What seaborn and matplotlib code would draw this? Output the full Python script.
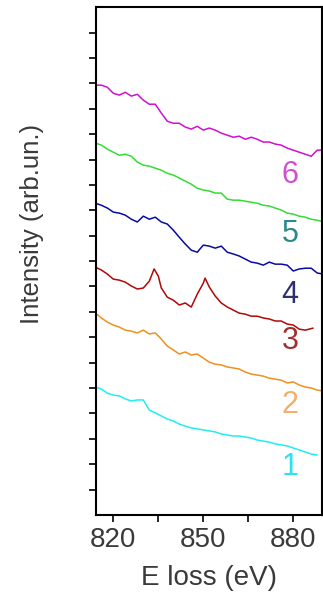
import matplotlib
matplotlib.use("Agg")
import matplotlib.pyplot as plt
import numpy as np
import seaborn as sns

# energy grid (eV) shared by most spectra
energy = np.arange(814, 891, 2)

spec1 = [5.04, 4.96, 4.80, 4.72, 4.69, 4.57, 4.49, 4.53, 4.53, 4.13, 4.02, 3.90, 3.78,
         3.70, 3.58, 3.50, 3.43, 3.39, 3.35, 3.31, 3.27, 3.19, 3.15, 3.11, 3.11, 3.07,
         3.03, 2.95, 2.91, 2.87, 2.80, 2.76, 2.72, 2.64, 2.56, 2.48, 2.40, 2.36, np.nan]
spec2 = [7.95, 7.76, 7.60, 7.48, 7.40, 7.28, 7.24, 7.17, 7.28, 7.13, 7.17, 6.93, 6.65,
         6.50, 6.34, 6.42, 6.30, 6.34, 6.18, 6.02, 5.94, 5.91, 5.83, 5.79, 5.75, 5.63,
         5.55, 5.51, 5.47, 5.39, 5.35, 5.31, 5.20, 5.24, 5.12, 5.04, 5.00, 4.92, 4.88]
spec4 = [12.28, 12.20, 12.09, 11.93, 11.89, 11.81, 11.65, 11.54, 11.77, 11.65, 11.73,
         11.54, 11.46, 11.22, 10.94, 10.67, 10.43, 10.35, 10.63, 10.59, 10.51, 10.59,
         10.35, 10.28, 10.20, 10.08, 9.96, 9.92, 9.84, 9.96, 9.88, 9.88, 9.84, 9.61,
         9.69, 9.72, 9.72, 9.53, 9.49]
spec5 = [14.65, 14.57, 14.41, 14.29, 14.17, 14.21, 14.13, 13.90, 13.78, 13.74, 13.66,
         13.58, 13.46, 13.39, 13.27, 13.15, 13.03, 12.87, 12.80, 12.76, 12.68, 12.68,
         12.44, 12.40, 12.40, 12.36, 12.32, 12.28, 12.20, 12.17, 12.09, 12.01, 11.89,
         11.85, 11.77, 11.73, 11.65, 11.61, 11.54]
spec6 = [16.93, 16.93, 16.85, 16.61, 16.54, 16.65, 16.50, 16.57, 16.34, 16.18, 16.18,
         15.83, 15.51, 15.43, 15.43, 15.28, 15.20, 15.31, 15.16, 15.24, 15.16, 15.04,
         14.96, 14.88, 14.92, 14.80, 14.88, 14.80, 14.69, 14.69, 14.61, 14.57, 14.45,
         14.37, 14.29, 14.21, 14.13, 14.37, 14.37]

# spectrum 3 has its own energies (two sharp peaks)
energy3 = [814, 816, 818, 820, 822, 824, 826, 828, 830, 832, 833.6, 835, 836, 838, 840,
           842, 844, 846, 848, 850, 850.6, 852, 854, 856, 858, 860, 862, 864, 866, 868,
           870, 872, 874, 876, 878, 880, 882, 884, 886.6]
spec3 = [9.76, 9.65, 9.49, 9.29, 9.25, 9.17, 9.02, 8.90, 8.94, 9.21, 9.69, 9.41, 8.94,
         8.58, 8.46, 8.27, 8.35, 8.19, 8.70, 9.13, 9.33, 8.98, 8.62, 8.35, 8.19, 8.07,
         7.95, 7.91, 7.83, 7.83, 7.76, 7.72, 7.64, 7.64, 7.52, 7.48, 7.32, 7.28, 7.36]

labels = ["1", "2", "3", "4", "5", "6"]
label_y = [1.90, 4.35, 6.85, 8.65, 11.05, 13.40]
line_colors = ["#20eef0", "#f0901e", "#b00808", "#0a0aa0", "#33dd33", "#d010d0"]
label_colors = ["#30e0f0", "#f0b070", "#a03030", "#303070", "#2a8a8a", "#d050d0"]

sns.set_theme(style="ticks")
plt.rcParams["font.family"] = ["Liberation Sans", "DejaVu Sans"]

fig = plt.figure(figsize=(3.23, 6.03), dpi=100)
ax = fig.add_axes([0.297, 0.146, 0.700, 0.842])

series = [(energy, spec1), (energy, spec2), (energy3, spec3),
          (energy, spec4), (energy, spec5), (energy, spec6)]
for (xs, ys), c in zip(series, line_colors):
    sns.lineplot(x=xs, y=ys, ax=ax, color=c, linewidth=1.1, estimator=None, sort=False)

for lab, ly, c in zip(labels, label_y, label_colors):
    ax.text(879, ly, lab, color=c, fontsize=22, ha="center", va="center")

ax.set_xlim(814.2, 889.6)
ax.set_ylim(0, 20)
ax.set_xticks([820, 850, 880])
ax.set_xticks([835, 865], minor=True)
ax.set_yticks(np.arange(1, 20))
ax.set_yticklabels([])
ax.tick_params(axis="both", which="both", direction="out", length=5, width=1.2,
               color="black", labelsize=20, labelcolor="#3a3a3a")
ax.tick_params(axis="x", pad=4)
for s in ax.spines.values():
    s.set_color("black")
    s.set_linewidth(1.5)

ax.set_xlabel("E loss (eV)", fontsize=20, color="#3a3a3a", labelpad=8)
ax.set_ylabel("Intensity (arb.un.)", fontsize=18.5, color="#3a3a3a")
ax.yaxis.set_label_coords(-0.23, 0.573)

fig.savefig("out.png", dpi=100)
